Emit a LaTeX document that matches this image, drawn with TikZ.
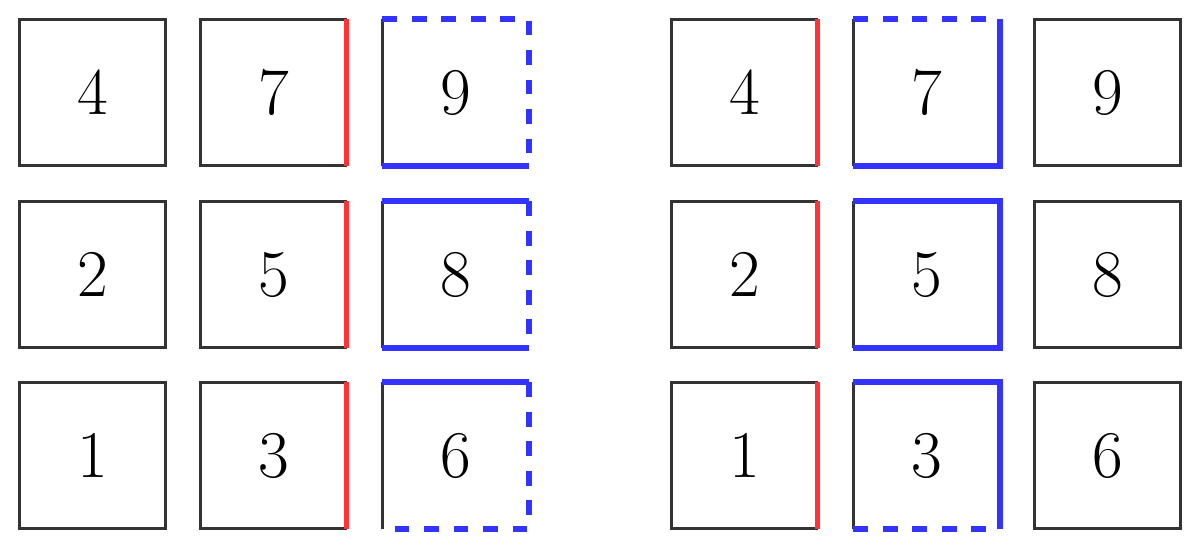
\documentclass[tikz,border=0pt]{standalone}
\usepackage{tikz}
\tikzset{
    cellbox/.style = {rectangle, minimum width=1.45cm, minimum height=1.45cm,
        inner sep=0pt, font=\fontsize{19}{21}\selectfont},
    greyedge/.style = {draw=black!80, line width=1pt},
    rededge/.style = {draw=red!80, line width=1.4pt},
    blueedge/.style = {draw=blue!80, line width=1.8pt},
    bluedash/.style = {blueedge, dash pattern=on 4.2pt off 4.2pt}
}
\begin{document}
\begin{tikzpicture}
    \useasboundingbox (0,0) rectangle (12,5.5);

    % Left grid
    \node[cellbox] (l4) at (0.925,4.575) {4};
    \node[cellbox] (l7) at (2.735,4.575) {7};
    \node[cellbox] (l9) at (4.555,4.575) {9};
    \node[cellbox] (l2) at (0.925,2.755) {2};
    \node[cellbox] (l5) at (2.735,2.755) {5};
    \node[cellbox] (l8) at (4.555,2.755) {8};
    \node[cellbox] (l1) at (0.925,0.945) {1};
    \node[cellbox] (l3) at (2.735,0.945) {3};
    \node[cellbox] (l6) at (4.555,0.945) {6};

    % Right grid
    \node[cellbox] (r4) at (7.445,4.575) {4};
    \node[cellbox] (r7) at (9.265,4.575) {7};
    \node[cellbox] (r9) at (11.075,4.575) {9};
    \node[cellbox] (r2) at (7.445,2.755) {2};
    \node[cellbox] (r5) at (9.265,2.755) {5};
    \node[cellbox] (r8) at (11.075,2.755) {8};
    \node[cellbox] (r1) at (7.445,0.945) {1};
    \node[cellbox] (r3) at (9.265,0.945) {3};
    \node[cellbox] (r6) at (11.075,0.945) {6};

    % plain boxes
    \foreach \n in {l4,l2,l1,r9,r8,r6}
        \draw[greyedge] (\n.south west) rectangle (\n.north east);
    \foreach \n in {l7,l5,l3,r4,r2,r1} {
        \draw[greyedge] (\n.north east) -- (\n.north west) -- (\n.south west) -- (\n.south east);
        \draw[rededge] (\n.south east) -- (\n.north east);
    }
    \foreach \n in {l9,l8,l6,r7,r5,r3}
        \draw[greyedge] (\n.south west) -- (\n.north west);

    % left column three
    \draw[bluedash] (l9.north west) -- (l9.north east) -- (l9.south east);
    \draw[blueedge] (l9.south west) -- (l9.south east);
    \draw[blueedge] (l8.north west) -- (l8.north east);
    \draw[bluedash] (l8.north east) -- (l8.south east);
    \draw[blueedge] (l8.south west) -- (l8.south east);
    \draw[blueedge] (l6.north west) -- (l6.north east);
    \draw[bluedash] (l6.north east) -- (l6.south east) -- (l6.south west);

    % right column two
    \draw[bluedash] (r7.north west) -- (r7.north east);
    \draw[blueedge] (r7.north east) -- (r7.south east) -- (r7.south west);
    \draw[blueedge] (r5.north west) -- (r5.north east) -- (r5.south east) -- (r5.south west);
    \draw[blueedge] (r3.north west) -- (r3.north east) -- (r3.south east);
    \draw[bluedash] (r3.south west) -- (r3.south east);
\end{tikzpicture}
\end{document}
